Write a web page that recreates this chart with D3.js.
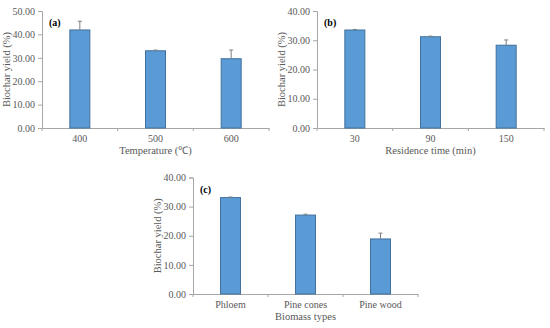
<!DOCTYPE html>
<html><head><meta charset="utf-8">
<script src="https://cdn.jsdelivr.net/npm/d3@7"></script>
<style>body{margin:0;background:#fff}svg{display:block}</style>
</head><body>
<svg id="c" width="550" height="328"></svg>
<script>
const catsA = ["400", "500", "600"];
const valsA = [41.9, 33.0, 29.6];
const errA = [3.7, 0.3, 3.7];
const ticksA = [0, 10, 20, 30, 40, 50];

const catsB = ["30", "90", "150"];
const valsB = [33.5, 31.2, 28.3];
const errB = [0.2, 0.2, 1.8];
const ticksB = [0, 10, 20, 30, 40];

const catsC = ["Phloem", "Pine cones", "Pine wood"];
const valsC = [33.1, 27.1, 18.9];
const errC = [0.2, 0.3, 2.0];
const ticksC = [0, 10, 20, 30, 40];

const svg = d3.select("#c");
const font = "'Liberation Serif', 'Times New Roman', serif";

function panel(o) {
  const g = svg.append("g");
  const x = d3.scaleBand().domain(o.cats).range([o.x0, o.x1]);
  const y = d3.scaleLinear().domain([0, d3.max(o.ticks)]).range([o.y0, o.y1]);
  const ya = d3.axisLeft(y).tickValues(o.ticks).tickFormat(d3.format(".2f")).tickSize(4).tickPadding(3);
  const yg = g.append("g").attr("transform", `translate(${o.x0},0)`).call(ya);
  yg.select(".domain").attr("stroke", "#a6a6a6");
  yg.selectAll(".tick line").attr("stroke", "#a6a6a6");
  yg.selectAll("text").attr("fill", "#595959").style("font-family", font).style("font-size", "10px");
  const xa = d3.axisBottom(x).tickSize(0).tickPadding(7);
  const xg = g.append("g").attr("transform", `translate(0,${o.y0})`).call(xa);
  xg.select(".domain").attr("stroke", "#a6a6a6");
  xg.selectAll("text").attr("fill", "#595959").style("font-family", font).style("font-size", "10px");
  const bounds = o.cats.map(c => x(c)).concat([o.x1]);
  g.selectAll(".bt").data(bounds).enter().append("line")
    .attr("x1", d => d).attr("x2", d => d).attr("y1", o.y0).attr("y2", o.y0 + 3)
    .attr("stroke", "#a6a6a6");
  const bw = 20;
  g.selectAll(".bar").data(o.vals).enter().append("rect")
    .attr("x", (d, i) => x(o.cats[i]) + x.bandwidth() / 2 - bw / 2)
    .attr("width", bw)
    .attr("y", d => y(d))
    .attr("height", d => o.y0 - y(d))
    .attr("fill", "#5b9bd5").attr("stroke", "#41719c").attr("stroke-width", 1);
  g.selectAll(".eb").data(o.vals).enter().append("line")
    .attr("x1", (d, i) => x(o.cats[i]) + x.bandwidth() / 2)
    .attr("x2", (d, i) => x(o.cats[i]) + x.bandwidth() / 2)
    .attr("y1", d => y(d))
    .attr("y2", (d, i) => y(d + o.err[i]))
    .attr("stroke", "#7f7f7f").attr("stroke-width", 1);
  g.selectAll(".ec").data(o.vals).enter().append("line")
    .attr("x1", (d, i) => x(o.cats[i]) + x.bandwidth() / 2 - 2)
    .attr("x2", (d, i) => x(o.cats[i]) + x.bandwidth() / 2 + 2)
    .attr("y1", (d, i) => y(d + o.err[i]))
    .attr("y2", (d, i) => y(d + o.err[i]))
    .attr("stroke", "#7f7f7f").attr("stroke-width", 1);
  g.append("text").attr("x", o.x0 + 7).attr("y", o.y1 + 15).text(o.label)
    .style("font-family", font).style("font-size", "10px").style("font-weight", "bold").attr("fill", "#000");
  g.append("text").attr("transform", `translate(${o.x0 - 32},${(o.y0 + o.y1) / 2}) rotate(-90)`)
    .attr("text-anchor", "middle").text("Biochar yield  (%)")
    .style("font-family", font).style("font-size", "10.5px").attr("fill", "#595959");
  g.append("text").attr("x", (o.x0 + o.x1) / 2).attr("y", o.y0 + 26)
    .attr("text-anchor", "middle").text(o.xtitle)
    .style("font-family", font).style("font-size", "10.5px").attr("fill", "#595959");
}

panel({cats: catsA, vals: valsA, err: errA, ticks: ticksA, x0: 42, x1: 269, y0: 128, y1: 11, label: "(a)", xtitle: "Temperature (\u2103)"});
panel({cats: catsB, vals: valsB, err: errB, ticks: ticksB, x0: 317, x1: 544, y0: 128, y1: 11, label: "(b)", xtitle: "Residence time (min)"});
panel({cats: catsC, vals: valsC, err: errC, ticks: ticksC, x0: 193, x1: 418, y0: 294, y1: 177.5, label: "(c)", xtitle: "Biomass types"});
</script>
</body></html>
